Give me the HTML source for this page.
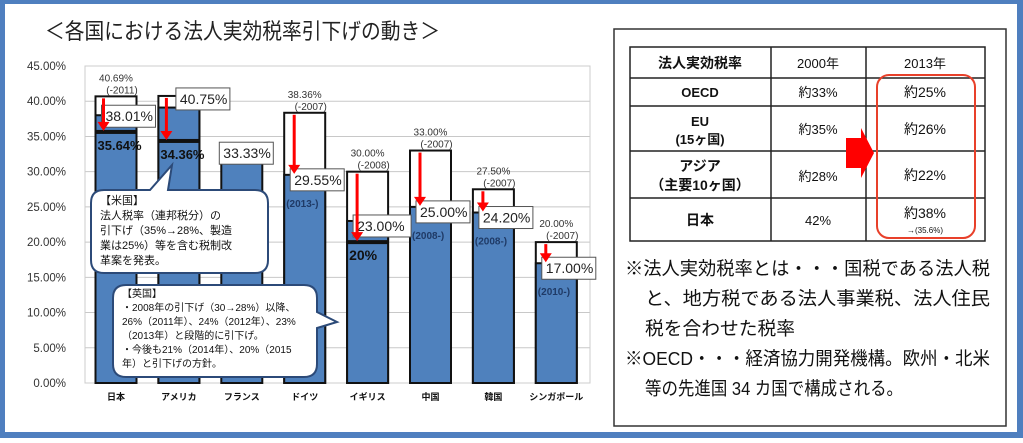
<!DOCTYPE html>
<html><head><meta charset="utf-8"><style>
body{margin:0;width:1023px;height:438px;overflow:hidden;background:#fff;font-family:"Liberation Sans","Noto Sans CJK JP",sans-serif}
svg text{font-family:"Liberation Sans","Noto Sans CJK JP",sans-serif}
</style></head><body>
<svg id="c" width="1023" height="438" viewBox="0 0 1023 438" xmlns="http://www.w3.org/2000/svg">
<rect x="0" y="0" width="1023" height="438" fill="#4f7fbf"/>
<rect x="5" y="4" width="1012" height="428" fill="#fff"/>
<text x="45" y="39" font-size="22" fill="#222" textLength="395" lengthAdjust="spacingAndGlyphs">＜各国における法人実効税率引下げの動き＞</text>
<g id="grid"></g>
<g id="bars"></g>
<g id="ann"></g>
<path d="M104,190 H150 L172,165 L168,190 H255 Q268,190 268,203 V260 Q268,273 255,273 H104 Q91,273 91,260 V203 Q91,190 104,190 Z" fill="#fff" stroke="#2c4a78" stroke-width="2"/>
<text font-size="11" fill="#111"><tspan x="100" y="204">【米国】</tspan><tspan x="100" y="219">法人税率（連邦税分）の</tspan><tspan x="100" y="234">引下げ（35%→28%、製造</tspan><tspan x="100" y="249">業は25%）等を含む税制改</tspan><tspan x="100" y="264">革案を発表。</tspan></text>
<path d="M126,285 H304 Q317,285 317,298 V312 L337,322 L317,328 V364 Q317,377 304,377 H126 Q113,377 113,364 V298 Q113,285 126,285 Z" fill="#fff" stroke="#2c4a78" stroke-width="2"/>
<text font-size="10" fill="#111"><tspan x="122" y="297">【英国】</tspan><tspan x="122" y="311">・2008年の引下げ（30→28%）以降、</tspan><tspan x="122" y="325">26%（2011年）、24%（2012年）、23%</tspan><tspan x="122" y="339">（2013年）と段階的に引下げ。</tspan><tspan x="122" y="353">・今後も21%（2014年）、20%（2015</tspan><tspan x="122" y="367">年）と引下げの方針。</tspan></text>
<rect x="614" y="29" width="392" height="397" fill="#fff" stroke="#333" stroke-width="1.5"/>
<g stroke="#222" stroke-width="1.5" fill="none">
<rect x="630" y="47" width="355" height="194"/>
<line x1="630" y1="78" x2="985" y2="78"/><line x1="630" y1="106" x2="985" y2="106"/><line x1="630" y1="151" x2="985" y2="151"/><line x1="630" y1="198" x2="985" y2="198"/>
<line x1="771" y1="47" x2="771" y2="241"/><line x1="866" y1="47" x2="866" y2="241"/>
</g>
<g font-size="13" fill="#111" text-anchor="middle">
<text x="700" y="68" font-weight="bold" font-size="14">法人実効税率</text><text x="818" y="68">2000年</text><text x="925" y="68">2013年</text>
<text x="700" y="97" font-weight="bold">OECD</text><text x="818" y="97">約33%</text><text x="925" y="97" font-size="14">約25%</text>
<text x="700" y="126" font-weight="bold">EU</text><text x="700" y="144" font-weight="bold">(15ヶ国)</text><text x="818" y="134">約35%</text><text x="925" y="134" font-size="14">約26%</text>
<text x="700" y="171" font-weight="bold" font-size="14">アジア</text><text x="700" y="190" font-weight="bold" font-size="14">（主要10ヶ国）</text><text x="818" y="181">約28%</text><text x="925" y="180" font-size="14">約22%</text>
<text x="700" y="225" font-weight="bold" font-size="14">日本</text><text x="818" y="225">42%</text><text x="925" y="218" font-size="14">約38%</text><text x="925" y="233" font-size="8">→(35.6%)</text>
</g>
<rect x="877" y="75" width="98" height="163" rx="12" fill="none" stroke="#e8402a" stroke-width="2"/>
<polygon points="846,138 861,138 861,128 874,153 861,178 861,168 846,168" fill="#f00"/>
<g font-size="18.5" fill="#111" lengthAdjust="spacingAndGlyphs">
<text x="625" y="275" textLength="365" lengthAdjust="spacingAndGlyphs">※法人実効税率とは・・・国税である法人税</text>
<text x="645" y="305" textLength="345" lengthAdjust="spacingAndGlyphs">と、地方税である法人事業税、法人住民</text>
<text x="645" y="335" textLength="150" lengthAdjust="spacingAndGlyphs">税を合わせた税率</text>
<text x="625" y="365" textLength="365" lengthAdjust="spacingAndGlyphs">※OECD・・・経済協力開発機構。欧州・北米</text>
<text x="645" y="395" textLength="258" lengthAdjust="spacingAndGlyphs">等の先進国 34 カ国で構成される。</text>
</g>
</svg>
<script>
const categories=["日本","アメリカ","フランス","ドイツ","イギリス","中国","韓国","シンガポール"];
const oldRate=[40.69,40.75,0,38.36,30.00,33.00,27.50,20.00];
const newRate=[38.01,39.1,33.33,29.55,23.00,25.00,24.20,17.00];
const futureRate=[35.64,34.36,0,0,20,0,0,0];
const oldLabels=["40.69%\n(-2011)","","","38.36%\n(-2007)","30.00%\n(-2008)","33.00%\n(-2007)","27.50%\n(-2007)","20.00%\n(-2007)"];
const newLabels=["38.01%","40.75%","33.33%","29.55%","23.00%","25.00%","24.20%","17.00%"];
const yearLabels=["","","","(2013-)","","(2008-)","(2008-)","(2010-)"];
const futureLabels=["35.64%","34.36%","","","20%","","",""];
const ticks=[0,5,10,15,20,25,30,35,40,45];
const NS="http://www.w3.org/2000/svg";
const y=v=>383-v*317/45, x=i=>116+i*62.9, bw=41;
function mk(t,a,p){const e=document.createElementNS(NS,t);for(const k in a)e.setAttribute(k,a[k]);p.appendChild(e);return e;}
const g=document.getElementById('grid'),b=document.getElementById('bars'),an=document.getElementById('ann');
ticks.forEach(t=>{
 const l=mk('line',{x1:85,x2:590,y1:y(t),y2:y(t),stroke:'#c8c8c8','stroke-width':1},g);
 
 
 const tx=mk('text',{x:66,y:y(t)+4,'font-size':11.5,'text-anchor':'end',fill:'#333'},g);tx.textContent=t.toFixed(2)+'%';
 
 
});
const bd=mk('rect',{x:85,y:y(45),width:505,height:y(0)-y(45),fill:'none',stroke:'#ccc'},g);


categories.forEach((c,i)=>{
 const cx=x(i),l=cx-bw/2;
 if(oldRate[i]>0){const r=mk('rect',{x:l,y:y(oldRate[i]),width:bw,height:y(0)-y(oldRate[i]),fill:'#fff',stroke:'#111','stroke-width':2},b);
  
  }
 const nb=mk('rect',{x:l,y:y(newRate[i]),width:bw,height:y(0)-y(newRate[i]),fill:'#4f81bd',stroke:'#111','stroke-width':2},b);
 
 
 if(futureRate[i]>0){const f=mk('rect',{x:l,y:y(futureRate[i])-2,width:bw,height:4,fill:'#111'},b);
  
  
  const ft=mk('text',{x:l+2,y:y(futureRate[i])+18,'font-size':i==4?14:13,'font-weight':'bold',fill:'#111'},an);ft.textContent=futureLabels[i];
  
  }
 const ct=mk('text',{x:cx,y:400,'font-size':9,'font-weight':'bold','text-anchor':'middle',fill:'#111'},an);ct.textContent=c;
 
 
 if(oldLabels[i]){const p=oldLabels[i].split('\n');
  const t1=mk('text',{x:cx,y:y(oldRate[i])-15,'font-size':10,'text-anchor':'middle',fill:'#333'},an);t1.textContent=p[0];
  
  
  const t2=mk('text',{x:cx+6,y:y(oldRate[i])-3,'font-size':10,'text-anchor':'middle',fill:'#333'},an);t2.textContent=p[1];
  
  }
 const top=oldRate[i]>0?y(oldRate[i]):y(newRate[i]);
 const bx=i==2?l-2:l+6, boxY=i==0?y(newRate[i])-10:i==1?y(oldRate[i])-8:y(newRate[i])-6;
 const bx2=mk('rect',{x:i==1?cx-3:bx,y:boxY,width:i==4?58:54,height:22,fill:'#fff',stroke:'#555'},an);
 
 
 const nt=mk('text',{x:(i==1?cx-3:bx)+4,y:boxY+16,'font-size':14,fill:'#222'},an);nt.textContent=newLabels[i];
 
 
 if(yearLabels[i]){const yt=mk('text',{x:l+2,y:boxY+38,'font-size':10,'font-weight':'bold',fill:'#1f3a66'},an);yt.textContent=yearLabels[i];
  
  }
 if(oldRate[i]>0){
  const ax=l+(i<2?8:10), a1=top+2, a2=(futureRate[i]>0?y(futureRate[i]):y(newRate[i]))-2;
  const ar=mk('line',{x1:ax,x2:ax,y1:a1,y2:a2-6,stroke:'#f00','stroke-width':3},an);
  
  
  const ah=mk('polygon',{points:`${ax-6},${a2-8} ${ax+6},${a2-8} ${ax},${a2+1}`,fill:'#f00'},an);
  
  
 }
});
</script>
</body></html>
